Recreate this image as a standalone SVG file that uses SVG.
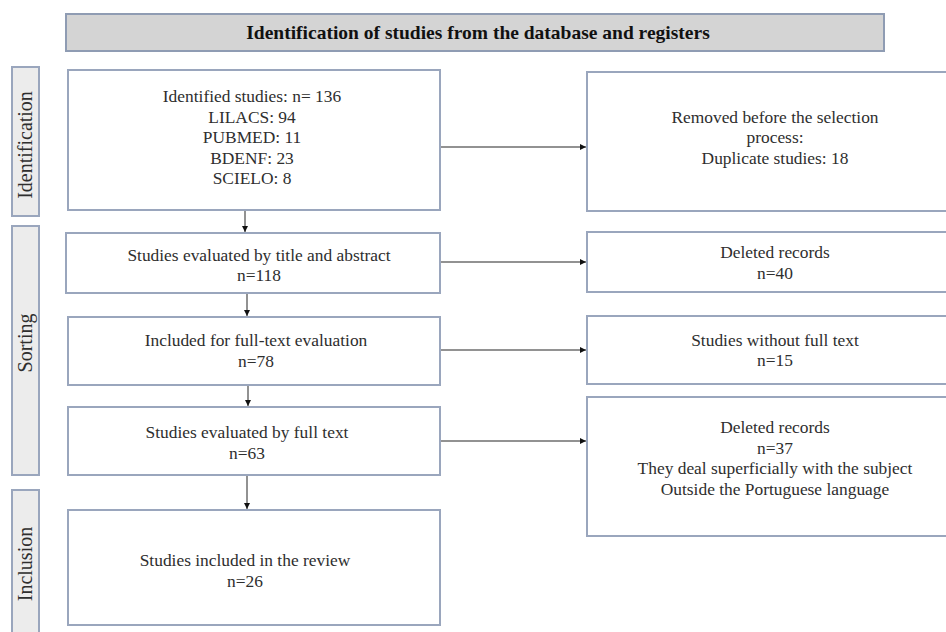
<svg xmlns="http://www.w3.org/2000/svg" width="946" height="632" viewBox="0 0 946 632">
<style>
.box{fill:#ffffff;stroke:#9aa6bd;stroke-width:2}
.hdr{fill:#d4d4d4;stroke:#8f9cb3;stroke-width:2}
.side{fill:#ececec;stroke:#9aa6bd;stroke-width:2}
text{font-family:"Liberation Serif","Times New Roman",serif;font-size:17.4px;fill:#2e2e2e;text-anchor:middle}
.b{font-weight:bold;fill:#111;font-size:19.5px}
.s{font-size:20px}
.c{stroke:#6e6e6e;stroke-width:1.5;fill:none}
</style>
<defs>
<marker id="ah" viewBox="0 0 10 10" refX="10" refY="5" markerWidth="6" markerHeight="6" orient="auto" markerUnits="userSpaceOnUse">
<path d="M0,0 L10,5 L0,10 z" fill="#111"/>
</marker>
</defs>
<rect width="946" height="632" fill="#ffffff"/>
<g id="header">
<rect class="hdr" x="66" y="14" width="818" height="37"/>
<text class="b" x="478" y="39">Identification of studies from the database and registers</text>
</g>
<g id="label-identification">
<rect class="side" x="12" y="67" width="27" height="149"/>
<text class="s" transform="translate(32,145) rotate(-90)">Identification</text>
</g>
<g id="label-sorting">
<rect class="side" x="12" y="226" width="27" height="249"/>
<text class="s" transform="translate(32,343) rotate(-90)">Sorting</text>
</g>
<g id="label-inclusion">
<rect class="side" x="12" y="490" width="27" height="150"/>
<text class="s" transform="translate(32,564) rotate(-90)">Inclusion</text>
</g>
<g id="identified">
<rect class="box" x="68" y="70" width="372" height="140"/>
<text x="252" y="102">Identified studies: n= 136</text>
<text x="252" y="123">LILACS: 94</text>
<text x="252" y="143">PUBMED: 11</text>
<text x="252" y="164">BDENF: 23</text>
<text x="252" y="184">SCIELO: 8</text>
</g>
<g id="removed">
<rect class="box" x="587" y="72" width="365" height="139"/>
<text x="775" y="123">Removed before the selection</text>
<text x="775" y="143">process:</text>
<text x="775" y="164">Duplicate studies: 18</text>
</g>
<g id="title-abstract">
<rect class="box" x="66" y="233" width="374" height="60"/>
<text x="259" y="261">Studies evaluated by title and abstract</text>
<text x="259" y="281">n=118</text>
</g>
<g id="deleted1">
<rect class="box" x="587" y="232" width="365" height="60"/>
<text x="775" y="258">Deleted records</text>
<text x="775" y="279">n=40</text>
</g>
<g id="fulltext-inclusion">
<rect class="box" x="68" y="317" width="372" height="68"/>
<text x="256" y="346">Included for full-text evaluation</text>
<text x="256" y="367">n=78</text>
</g>
<g id="without-full-text">
<rect class="box" x="587" y="316" width="365" height="68"/>
<text x="775" y="346">Studies without full text</text>
<text x="775" y="366">n=15</text>
</g>
<g id="fulltext-evaluated">
<rect class="box" x="68" y="407" width="372" height="68"/>
<text x="247" y="438">Studies evaluated by full text</text>
<text x="247" y="459">n=63</text>
</g>
<g id="deleted2">
<rect class="box" x="587" y="397" width="365" height="139"/>
<text x="775" y="433">Deleted records</text>
<text x="775" y="454">n=37</text>
<text x="775" y="474">They deal superficially with the subject</text>
<text x="775" y="495">Outside the Portuguese language</text>
</g>
<g id="included">
<rect class="box" x="68" y="510" width="372" height="115"/>
<text x="245" y="566">Studies included in the review</text>
<text x="245" y="587">n=26</text>
</g>
<g id="connectors">
<line class="c" x1="441" y1="147" x2="586" y2="147" marker-end="url(#ah)"/>
<line class="c" x1="441" y1="262" x2="586" y2="262" marker-end="url(#ah)"/>
<line class="c" x1="441" y1="350" x2="586" y2="350" marker-end="url(#ah)"/>
<line class="c" x1="441" y1="441" x2="586" y2="441" marker-end="url(#ah)"/>
<line class="c" x1="245" y1="211" x2="245" y2="232" marker-end="url(#ah)"/>
<line class="c" x1="247" y1="294" x2="247" y2="316" marker-end="url(#ah)"/>
<line class="c" x1="248" y1="386" x2="248" y2="406" marker-end="url(#ah)"/>
<line class="c" x1="247" y1="476" x2="247" y2="509" marker-end="url(#ah)"/>
</g>
</svg>
